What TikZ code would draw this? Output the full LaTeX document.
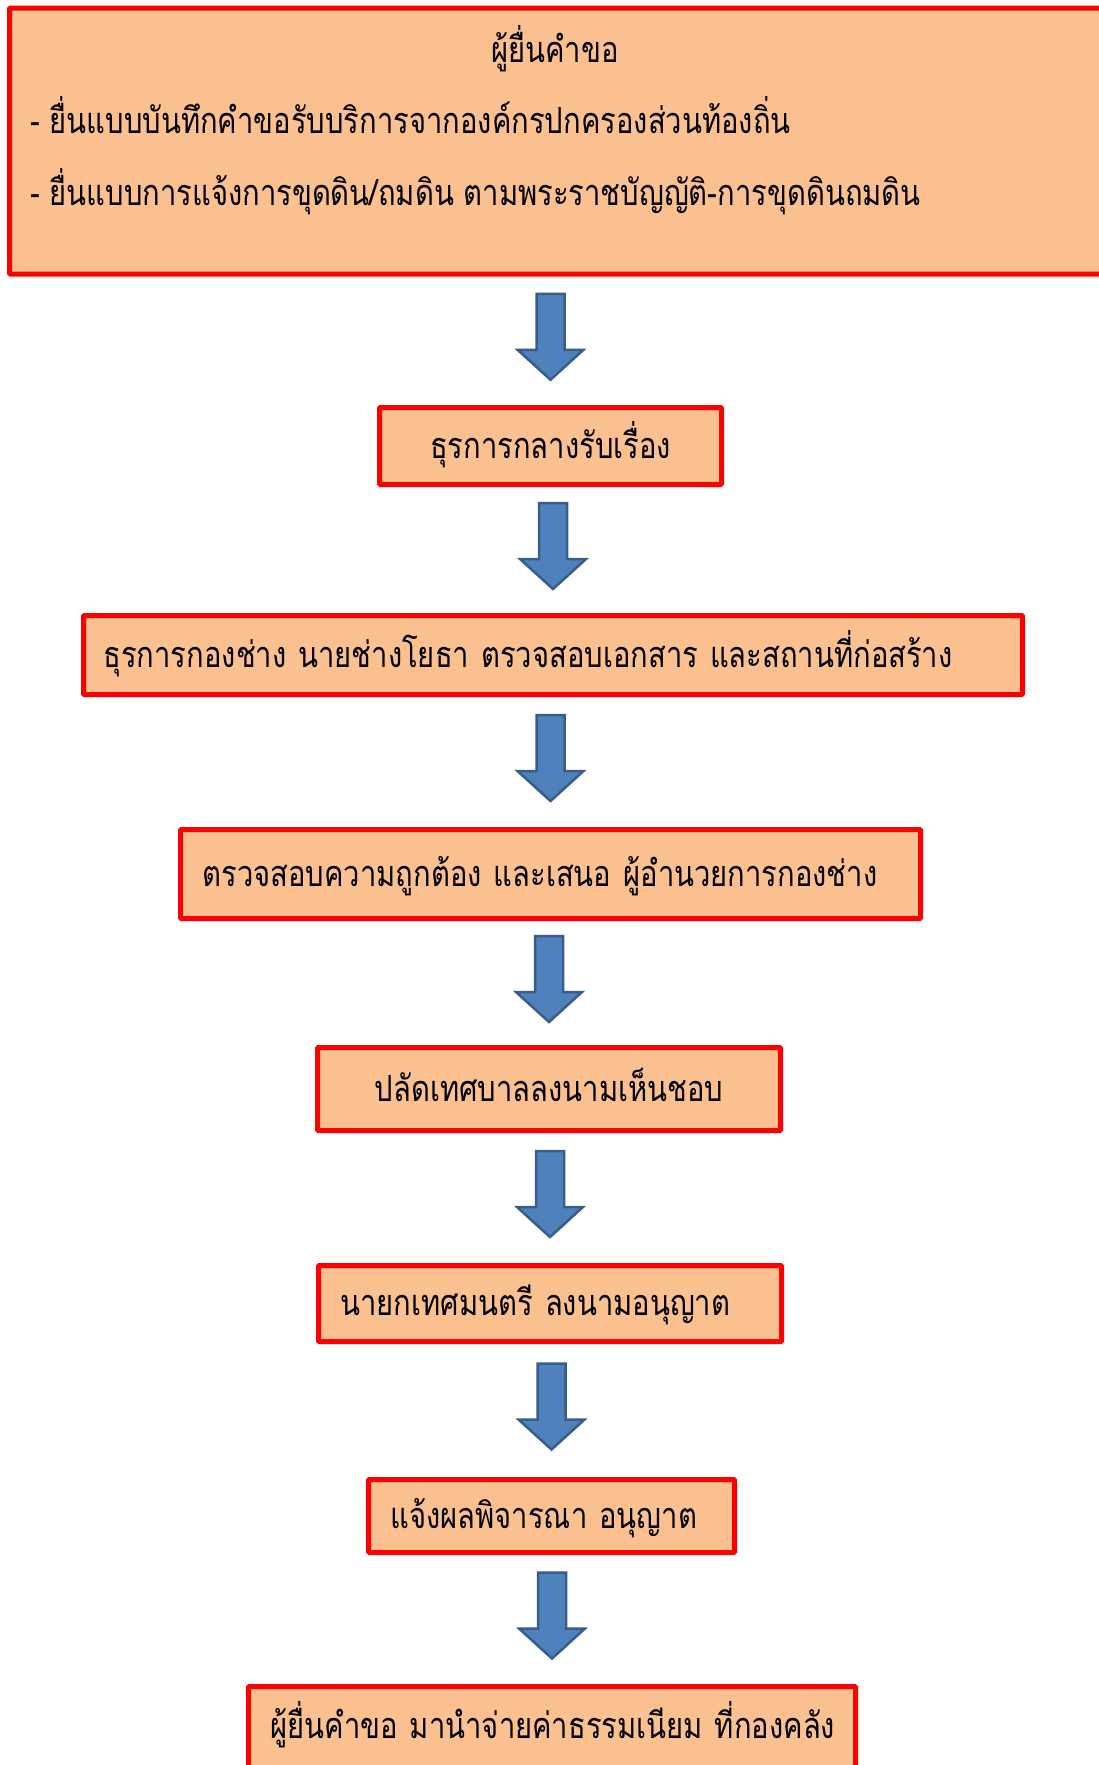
\documentclass[tikz,border=0pt]{standalone}
\usepackage{fontspec}
\newfontfamily\thaifont[Script=Thai, FakeStretch=0.81]{Loma}
\usetikzlibrary{calc}

\definecolor{boxfill}{RGB}{250,192,144}
\definecolor{boxline}{RGB}{255,0,0}
\definecolor{arrowfill}{RGB}{79,129,189}
\definecolor{arrowline}{RGB}{56,93,138}

% block arrow between two boxes
\newcommand{\flowarrow}[2]{%
  \coordinate (mid) at ($(#1.south -| #2.north)!0.5!(#2.north)$);
  \draw[blockarrow] ($(mid)+(-14,-47)$) -- ++(28,0) -- ++(0,56) -- ++(19,0)
    -- ++(-33,30) -- ++(-33,-30) -- ++(19,0) -- cycle;
}

\begin{document}
\begin{tikzpicture}[x=1pt,y=-1pt,
    stepbox/.style={draw=boxline, fill=boxfill, line width=5pt, rounded corners=1pt,
      font=\thaifont\fontsize{36}{42}\selectfont, text height=24pt, text depth=0pt,
      inner ysep=0pt},
    leftbox/.style={stepbox, align=left, inner xsep=#1},
    centerbox/.style={stepbox, align=center},
    thaitext/.style={font=\thaifont\fontsize{36}{42}\selectfont, inner sep=0pt},
    blockarrow/.style={draw=arrowline, fill=arrowfill, line width=2.5pt, line join=miter}]
  \useasboundingbox (0,0) rectangle (1099,1765);
  \clip (0,0) rectangle (1099,1765);

  % applicant
  \node[stepbox, minimum width=1100, minimum height=266] (request) at (559.5,141) {};
  \node[thaitext, anchor=base] (requestTitle) at (555,62) {ผู้ยื่นคำขอ};
  \node[thaitext, anchor=base west] (requestA) at (30,133)
    {- ยื่นแบบบันทึกคำขอรับบริการจากองค์กรปกครองส่วนท้องถิ่น};
  \node[thaitext, anchor=base west] (requestB) at (30,205)
    {- ยื่นแบบการแจ้งการขุดดิน/ถมดิน ตามพระราชบัญญัติ-การขุดดินถมดิน};

  % steps
  \node[centerbox, minimum width=342, minimum height=77] (clerk) at (550.5,446)
    {ธุรการกลางรับเรื่อง};
  \node[leftbox=20pt, text width=899, minimum height=79] (engineer) at (553,655)
    {ธุรการกองช่าง นายช่างโยธา\ ตรวจสอบเอกสาร และสถานที่ก่อสร้าง};
  \node[leftbox=22pt, text width=696, minimum height=89] (check) at (550.5,874)
    {ตรวจสอบความถูกต้อง และเสนอ ผู้อำนวยการกองช่าง};
  \node[centerbox, minimum width=463, minimum height=83] (deputy) at (549,1089)
    {ปลัดเทศบาลลงนามเห็นชอบ};
  \node[leftbox=22pt, text width=419, minimum height=76] (mayor) at (550,1303.5)
    {นายกเทศมนตรี ลงนามอนุญาต};
  \node[leftbox=22pt, text width=322, minimum height=73] (notify) at (551.5,1516)
    {แจ้งผลพิจารณา อนุญาต};
  \node[leftbox=22pt, text width=563, minimum height=129, text depth=50pt] (payment)
    at (552,1751) {\mbox{ผู้ยื่นคำขอ มานำจ่ายค่าธรรมเนียม ที่กองคลัง}};

  % arrows
  \flowarrow{request}{clerk}
  \flowarrow{clerk}{engineer}
  \flowarrow{engineer}{check}
  \flowarrow{check}{deputy}
  \flowarrow{deputy}{mayor}
  \flowarrow{mayor}{notify}
  \flowarrow{notify}{payment}
\end{tikzpicture}
\end{document}
